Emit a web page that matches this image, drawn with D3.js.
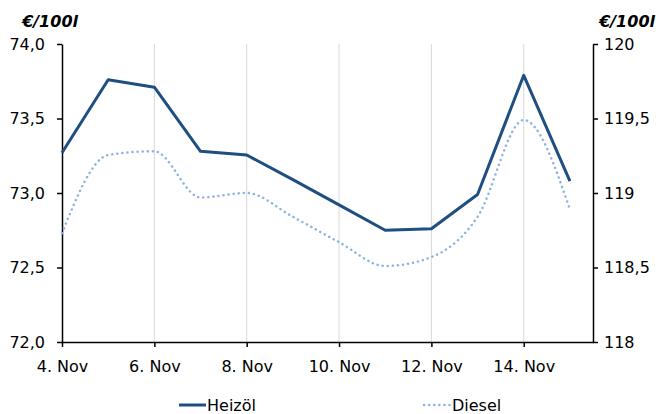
<!DOCTYPE html>
<html>
<head>
<meta charset="utf-8">
<script src="https://cdn.jsdelivr.net/npm/d3@7"></script>
<style>
  body { margin: 0; background: #fff; }
  text { font-family: "DejaVu Sans", Verdana, sans-serif; }
</style>
</head>
<body>
<div id="container"></div>
<script>
let w = 659;
let h = 414;

// DATA (days of November)
let days = [4, 5, 6, 7, 8, 9, 10, 11, 12, 13, 14, 15];
let heizoel = [73.27, 73.76, 73.71, 73.28, 73.255, 73.09, 72.92, 72.75, 72.76, 72.99, 73.79, 73.08];
let diesel = [118.73, 119.255, 119.28, 118.97, 119.0, 118.84, 118.67, 118.51, 118.57, 118.84, 119.49, 118.89];
let xTicks = [4, 6, 8, 10, 12, 14];
let leftTicks = [72.0, 72.5, 73.0, 73.5, 74.0];
let rightTicks = [118, 118.5, 119, 119.5, 120];
let seriesNames = ["Heizöl", "Diesel"];

let padL = 62, padR = 593, padT = 44, padB = 342;

let viz = d3.select("#container").append("svg")
    .attr("width", w)
    .attr("height", h)
;

let xScale = d3.scaleLinear().domain([4, 15.5]).range([padL, padR]);
let yLeft = d3.scaleLinear().domain([72, 74]).range([padB, padT]);
let yRight = d3.scaleLinear().domain([118, 120]).range([padB, padT]);

let fmtComma = d3.format(".1f");

// gridlines
viz.selectAll(".grid").data(xTicks.slice(1)).enter()
  .append("line")
    .attr("x1", d => xScale(d))
    .attr("x2", d => xScale(d))
    .attr("y1", padT)
    .attr("y2", padB)
    .attr("stroke", "#d9d9d9")
    .attr("stroke-width", 1)
;

// axes
let xAxis = d3.axisBottom(xScale).tickValues(xTicks).tickSize(5).tickSizeOuter(0)
    .tickFormat(d => d + ". Nov");
let gx = viz.append("g").attr("transform", "translate(0," + padB + ")").call(xAxis);

let lAxis = d3.axisLeft(yLeft).tickValues(leftTicks).tickSize(5).tickSizeOuter(0)
    .tickFormat(d => fmtComma(d).replace(".", ","));
let gl = viz.append("g").attr("transform", "translate(" + padL + ",0)").call(lAxis);

let rAxis = d3.axisRight(yRight).tickValues(rightTicks).tickSize(5).tickSizeOuter(0)
    .tickFormat(d => String(d).replace(".", ","));
let gr = viz.append("g").attr("transform", "translate(" + padR + ",0)").call(rAxis);

[gx, gl, gr].forEach(function(g) {
  g.select(".domain").attr("stroke", "#000").attr("stroke-width", 1.5);
  g.selectAll(".tick line").attr("stroke", "#000").attr("stroke-width", 1.5);
  g.selectAll(".tick text").attr("fill", "#000").style("font-size", "16px")
    .style("font-family", "'DejaVu Sans', Verdana, sans-serif");
});
gx.selectAll(".tick text").attr("dy", "1.4em");
gl.selectAll(".tick text").attr("x", -17);
gr.selectAll(".tick text").attr("x", 11);

// unit labels
viz.append("text").attr("x", 78).attr("y", 27).attr("text-anchor", "end")
  .style("font-size", "16px").style("font-weight", "bold").style("font-style", "italic")
  .text("€/100l");
viz.append("text").attr("x", 655).attr("y", 27).attr("text-anchor", "end")
  .style("font-size", "16px").style("font-weight", "bold").style("font-style", "italic")
  .text("€/100l");

// lines
let heizLine = d3.line()
    .x((d, i) => xScale(days[i]))
    .y(d => yLeft(d));
let dieselLine = d3.line()
    .x((d, i) => xScale(days[i]))
    .y(d => yRight(d))
    .curve(d3.curveMonotoneX);

viz.append("path")
    .attr("d", dieselLine(diesel))
    .attr("fill", "none")
    .attr("stroke", "#8db3e2")
    .attr("stroke-width", 2.5)
    .attr("stroke-dasharray", "0.1 5")
    .attr("stroke-linecap", "round")
;
viz.append("path")
    .attr("d", heizLine(heizoel))
    .attr("fill", "none")
    .attr("stroke", "#1f4e82")
    .attr("stroke-width", 3)
    .attr("stroke-linejoin", "round")
;

// legend
let legend = viz.append("g");
let lx = [179, 424];
seriesNames.forEach(function(name, i) {
  let line = legend.append("line")
      .attr("x1", lx[i]).attr("x2", lx[i] + 27)
      .attr("y1", 405).attr("y2", 405);
  if (i == 0) {
    line.attr("stroke", "#1f4e82").attr("stroke-width", 3);
  } else {
    line.attr("stroke", "#8db3e2").attr("stroke-width", 2.5)
      .attr("stroke-dasharray", "0.1 5").attr("stroke-linecap", "round");
  }
  legend.append("text")
      .attr("x", lx[i] + 28).attr("y", 411)
      .style("font-size", "16px")
      .text(name);
});
</script>
</body>
</html>
